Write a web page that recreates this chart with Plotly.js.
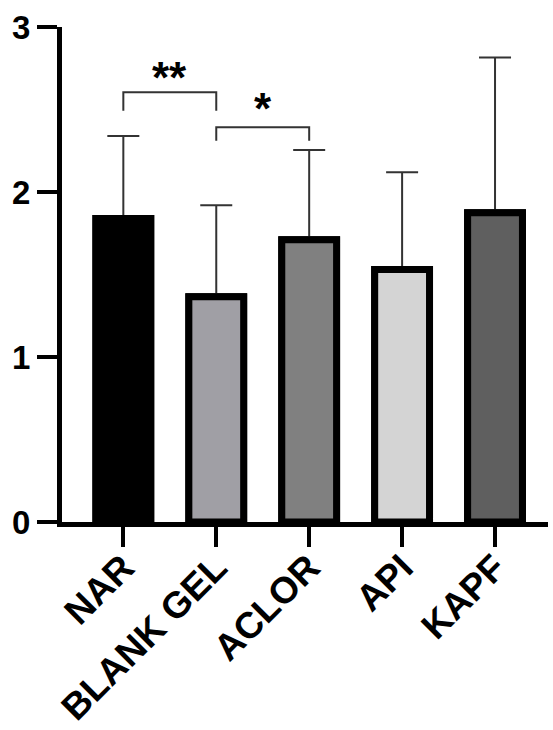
<!DOCTYPE html>
<html>
<head>
<meta charset="utf-8">
<script src="https://cdn.plot.ly/plotly-3.0.1.min.js"></script>
<style>html,body{margin:0;padding:0;background:#fff;}#chart{width:553px;height:730px;}</style>
</head>
<body>
<div id="chart"></div>
<script>
var categories = ["NAR", "BLANK GEL", "ACLOR", "API", "KAPF"];
var means = [1.84, 1.365, 1.71, 1.53, 1.875];
var sds = [0.50, 0.555, 0.545, 0.59, 0.94];
var barColors = ["#000000", "#a09fa5", "#808080", "#d4d4d4", "#5f5f5f"];
var yTicks = [0, 1, 2, 3];
// significance brackets: [from index, to index, top level, drop level, label, label level]
var bracketFrom = [0, 1];
var bracketTo = [1, 2];
var bracketTop = [2.605, 2.393];
var bracketDrop = [2.493, 2.31];
var bracketLabel = ["**", "*"];
var bracketLabelY = [2.535, 2.347];

var FONT = "Arial, 'Liberation Sans', sans-serif";

// trace 1: error bars (whiskers); trace 2: bars drawn on top to hide the lower cap
var errTrace = {
  type: "bar",
  x: categories,
  y: means,
  width: 0.59,
  marker: {color: barColors, line: {color: "#000000", width: 7}},
  error_y: {type: "data", symmetric: false, array: sds, arrayminus: sds.map(function(){return 0;}),
            color: "#333333", thickness: 2, width: 16},
  hoverinfo: "none"
};
var barTrace = {
  type: "bar",
  x: categories,
  y: means,
  width: 0.59,
  marker: {color: barColors, line: {color: "#000000", width: 7}},
  hoverinfo: "none"
};

var shapes = [], annotations = [];
for (var i = 0; i < bracketFrom.length; i++) {
  var a = bracketFrom[i], b = bracketTo[i];
  shapes.push({type: "path", xref: "x", yref: "y",
    path: "M " + a + "," + bracketDrop[i] + " L " + a + "," + bracketTop[i] + " L " + b + "," + bracketTop[i] + " L " + b + "," + bracketDrop[i],
    line: {color: "#333333", width: 2}});
  annotations.push({xref: "x", yref: "y", x: (a + b) / 2, y: bracketLabelY[i], text: "<b>" + bracketLabel[i] + "</b>",
    showarrow: false, yanchor: "bottom", font: {family: FONT, size: 44, color: "#000"}});
}

var layout = {
  width: 553, height: 730,
  margin: {l: 62, r: 5, t: 27, b: 208},
  paper_bgcolor: "#fff", plot_bgcolor: "#fff",
  showlegend: false,
  barmode: "overlay",
  font: {family: FONT, color: "#000"},
  xaxis: {
    type: "category", range: [-0.66, 4.57],
    showline: true, linecolor: "#000", linewidth: 5,
    ticks: "outside", ticklen: 20, tickwidth: 4, tickcolor: "#000",
    tickangle: -45, ticklabelstandoff: -16,
    tickfont: {size: 37, family: FONT, weight: "bold", color: "#000"},
    showgrid: false, zeroline: false
  },
  yaxis: {
    range: [0, 3], tickvals: yTicks, ticktext: yTicks.map(String),
    showline: true, linecolor: "#000", linewidth: 5,
    ticks: "outside", ticklen: 20, tickwidth: 4, tickcolor: "#000",
    tickfont: {size: 33, family: FONT, weight: "bold", color: "#000"},
    showgrid: false, zeroline: false
  },
  shapes: shapes,
  annotations: annotations
};

Plotly.newPlot("chart", [errTrace, barTrace], layout, {displayModeBar: false, staticPlot: true});
</script>
</body>
</html>
